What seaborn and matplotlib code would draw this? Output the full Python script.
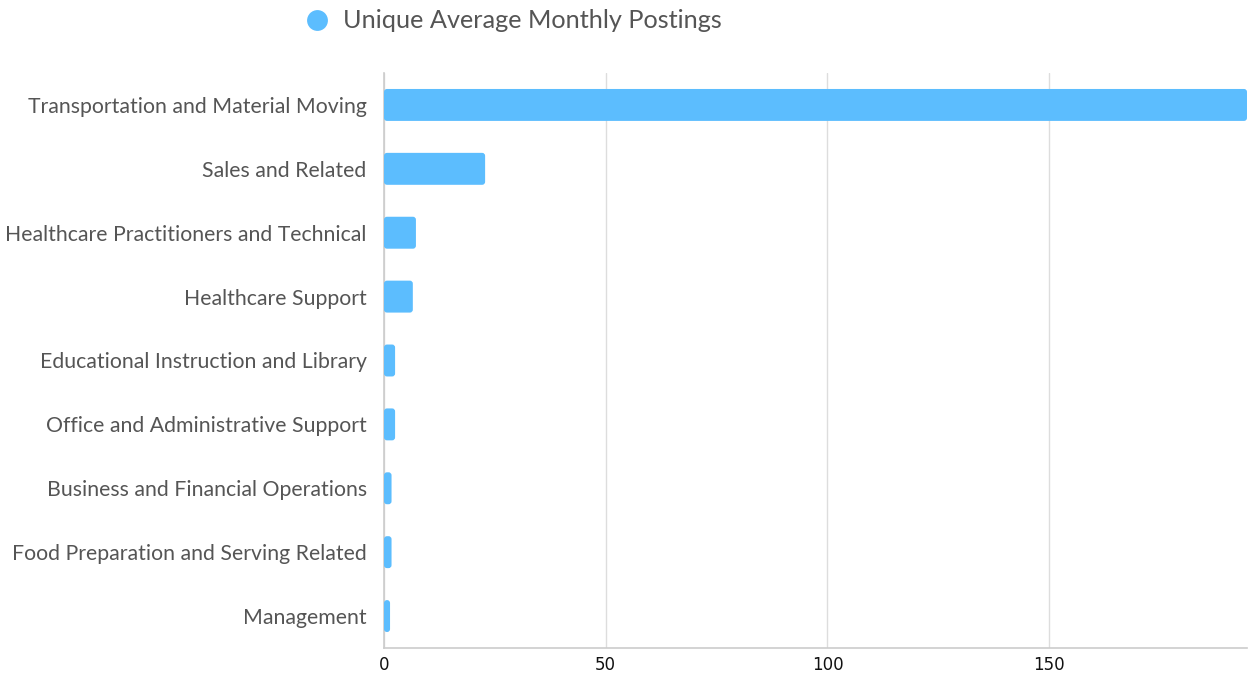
import matplotlib
matplotlib.use("Agg")
import matplotlib.pyplot as plt
from matplotlib.patches import FancyBboxPatch
from matplotlib.lines import Line2D
import seaborn as sns
import pandas as pd

occupations = [
    "Transportation and Material Moving",
    "Sales and Related",
    "Healthcare Practitioners and Technical",
    "Healthcare Support",
    "Educational Instruction and Library",
    "Office and Administrative Support",
    "Business and Financial Operations",
    "Food Preparation and Serving Related",
    "Management",
]
postings = [194.6, 22.8, 7.2, 6.5, 2.5, 2.5, 1.7, 1.7, 1.3]
x_ticks = [0, 50, 100, 150]
series_name = "Unique Average Monthly Postings"

bar_color = "#5cbdfe"

df = pd.DataFrame({"occupation": occupations, "postings": postings})

sns.set_theme(style="white")
plt.rcParams["font.family"] = ["Lato", "DejaVu Sans"]

fig = plt.figure(figsize=(12.55, 6.75), dpi=100)
ax = fig.add_axes([384 / 1255, 1 - 648 / 675, (1247 - 384) / 1255, (648 - 73) / 675])

sns.barplot(data=df, x="postings", y="occupation", color=bar_color,
            saturation=1, width=0.5, ax=ax, zorder=3)

# Swap rectangles for slightly rounded boxes
ax.set_xlim(0, max(postings))
ax.set_ylim(len(occupations) - 0.5, -0.5)
px_per_x = (1247 - 384) / max(postings)
px_per_y = 64.0
for p in list(ax.patches):
    x, y = p.get_x(), p.get_y()
    w, h = p.get_width(), p.get_height()
    r = 3.0 / px_per_x
    box = FancyBboxPatch((x + r, y + r * px_per_x / px_per_y),
                         max(w - 2 * r, 0.01), h - 2 * r * px_per_x / px_per_y,
                         boxstyle=f"round,pad={r},rounding_size={r}",
                         mutation_aspect=px_per_x / px_per_y,
                         facecolor=bar_color, edgecolor="none", zorder=3,
                         clip_on=False)
    p.remove()
    ax.add_patch(box)

ax.set_xticks(x_ticks)
ax.set_xticklabels([str(t) for t in x_ticks], fontfamily="DejaVu Sans",
                   fontsize=12, color="#111111")
ax.tick_params(axis="x", length=0, pad=6)
ax.tick_params(axis="y", length=0, pad=12.5, labelsize=15.3, labelcolor="#555555")
ax.set_xlabel("")
ax.set_ylabel("")

ax.grid(axis="x", color="#dddddd", linewidth=1, zorder=0)
ax.grid(axis="y", visible=False)
for side in ["top", "right"]:
    ax.spines[side].set_visible(False)
for side in ["left", "bottom"]:
    ax.spines[side].set_color("#cccccc")
    ax.spines[side].set_linewidth(1.2)

handle = Line2D([], [], marker="o", linestyle="none", markersize=15,
                markerfacecolor=bar_color, markeredgecolor="none")
fig.legend([handle], [series_name], loc="center", bbox_to_anchor=(513 / 1255, 1 - 21 / 675),
           frameon=False, fontsize=18.2, labelcolor="#555555", handletextpad=0.5,
           handlelength=1.0)

fig.savefig("out.png", dpi=100, facecolor="white")
